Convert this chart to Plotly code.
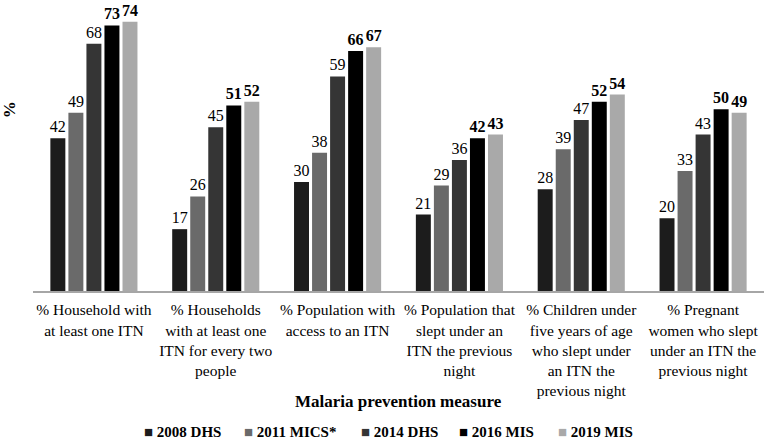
import plotly.graph_objects as go

categories = [
    "% Household with<br>at least one ITN",
    "% Households<br>with at least one<br>ITN for every two<br>people",
    "% Population with<br>access to an ITN",
    "% Population that<br>slept under an<br>ITN the previous<br>night",
    "% Children under<br>five years of age<br>who slept under<br>an ITN the<br>previous night",
    "% Pregnant<br>women who slept<br>under an ITN the<br>previous night",
]
series_names = ["2008 DHS", "2011 MICS*", "2014 DHS", "2016 MIS", "2019 MIS"]
dhs_2008 = [42, 17, 30, 21, 28, 20]
mics_2011 = [49, 26, 38, 29, 39, 33]
dhs_2014 = [68, 45, 59, 36, 47, 43]
mis_2016 = [73, 51, 66, 42, 52, 50]
mis_2019 = [74, 52, 67, 43, 54, 49]
series_values = [dhs_2008, mics_2011, dhs_2014, mis_2016, mis_2019]
colors = ["#1c1c1c", "#6a6a6a", "#353535", "#000000", "#a9a9a9"]
bold_labels = [False, False, False, True, True]

FONT = "Liberation Serif, Times New Roman, DejaVu Serif, serif"

fig = go.Figure()
for name, vals, col, bold in zip(series_names, series_values, colors, bold_labels):
    fig.add_trace(go.Bar(
        name=name,
        x=categories,
        y=vals,
        marker=dict(color=col, line=dict(width=0)),
        text=[f"<b>{v}</b>" if bold else str(v) for v in vals],
        textposition="outside",
        constraintext="none",
        cliponaxis=False,
        textfont=dict(family=FONT, size=16, color="#000000"),
        showlegend=False,
    ))

# legend drawn as text entries (square marker + bold label)
legend_left_px = [142, 242, 359, 457, 556]
PLOT_L, PLOT_W, PLOT_B, PLOT_H = 33, 731, 291, 291
legend_anns = []
for name, col, px in zip(series_names, colors, legend_left_px):
    legend_anns.append(dict(
        text=f'<span style="color:{col}">■</span> <b>{name}</b>',
        xref="paper", yref="paper",
        x=(px - PLOT_L) / PLOT_W, y=(PLOT_B - 432) / PLOT_H,
        xanchor="left", yanchor="middle",
        showarrow=False,
        font=dict(family=FONT, size=15, color="#000000"),
    ))

fig.update_layout(
    width=767,
    height=447,
    margin=dict(l=33, r=3, t=0, b=156, autoexpand=False),
    paper_bgcolor="white",
    plot_bgcolor="white",
    barmode="group",
    bargap=0.26,
    bargroupgap=0.17,
    font=dict(family=FONT, color="#000000"),
    showlegend=False,
    xaxis=dict(
        automargin=False,
        showline=True,
        linecolor="#a6a6a6",
        linewidth=1.5,
        ticks="",
        ticklabelstandoff=4,
        tickfont=dict(family=FONT, size=15.5, color="#000000"),
        showgrid=False,
        zeroline=False,
    ),
    yaxis=dict(
        automargin=False,
        range=[0, 80],
        showticklabels=False,
        showgrid=False,
        zeroline=False,
        showline=False,
        ticks="",
    ),
    annotations=[
        dict(
            text="<b>Malaria prevention measure</b>",
            xref="paper", yref="paper",
            x=0.5, y=-0.381,
            xanchor="center", yanchor="middle",
            showarrow=False,
            font=dict(family=FONT, size=17, color="#000000"),
        ),
        dict(
            text="<b>%</b>",
            xref="paper", yref="paper",
            x=-0.031, y=0.622,
            xanchor="center", yanchor="middle",
            textangle=-90,
            showarrow=False,
            font=dict(family=FONT, size=17, color="#000000"),
        ),
    ] + legend_anns,
)

fig.write_html(
    "out.html",
    config={"displayModeBar": False},
    post_script="document.body.style.margin='0';document.body.style.padding='0';",
)
